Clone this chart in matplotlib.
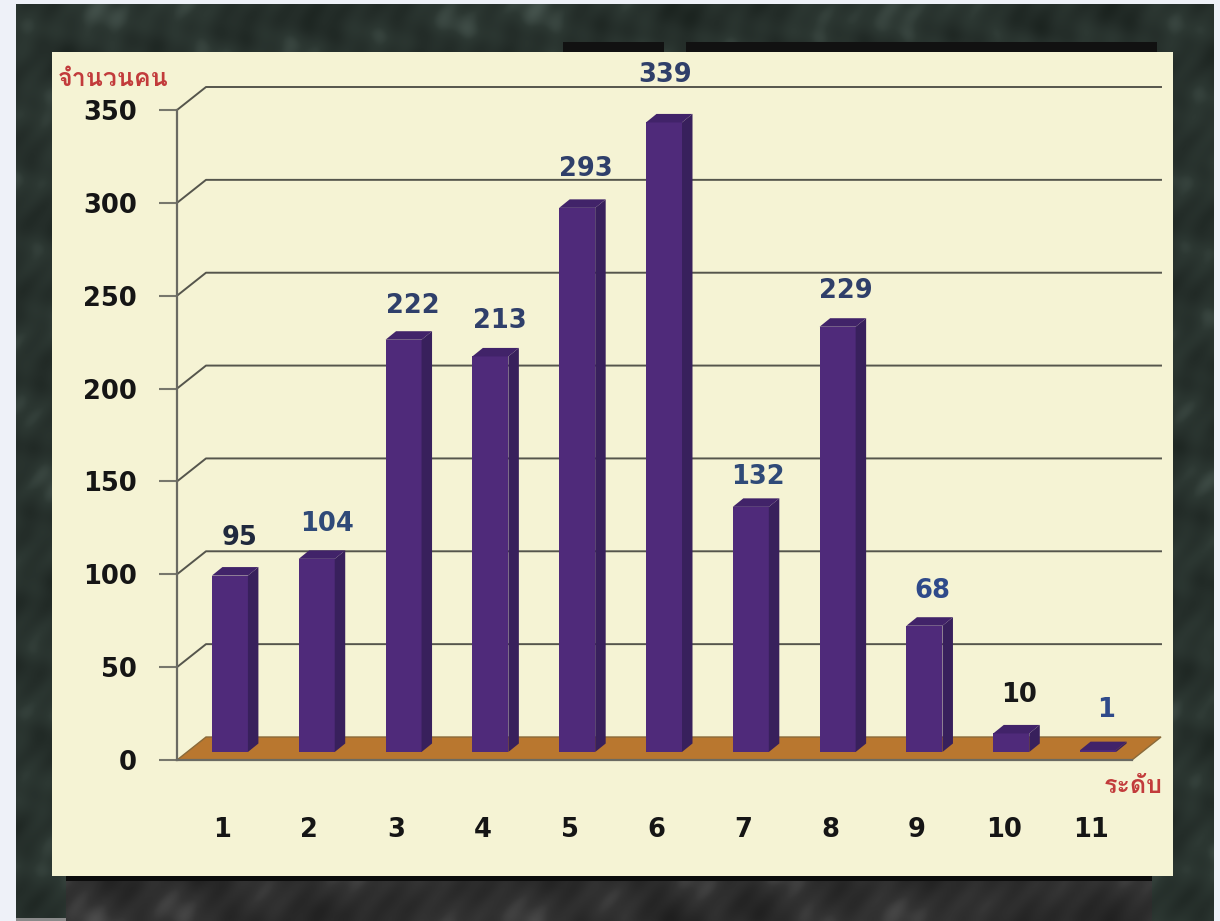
import matplotlib
matplotlib.use("Agg")
import matplotlib.pyplot as plt
import numpy as np
from matplotlib.patches import Polygon, Rectangle
from matplotlib.colors import LinearSegmentedColormap
from matplotlib.ft2font import FT2Font
from matplotlib import font_manager as fm
from matplotlib.transforms import ScaledTranslation

categories = [1, 2, 3, 4, 5, 6, 7, 8, 9, 10, 11]
values = [95, 104, 222, 213, 293, 339, 132, 229, 68, 10, 1]
y_ticks = [0, 50, 100, 150, 200, 250, 300, 350]
y_title = "จำนวนคน"
x_title = "ระดับ"

W, H = 1220, 921
fig = plt.figure(figsize=(W / 100, H / 100), dpi=100, facecolor="#eef1f8")

thai = []
for f in fm.fontManager.ttflist:
    try:
        if 0x0E08 in FT2Font(f.fname).get_charmap():
            thai.append(f.name)
    except Exception:
        pass
thai_family = list(dict.fromkeys(thai)) + ["DejaVu Sans"]

bg = fig.add_axes([0, 0, 1, 1], zorder=0)
bg.set_xlim(0, W); bg.set_ylim(H, 0); bg.axis("off")

# mottled marble backdrop (decoration only)
gx, gy = np.meshgrid(np.arange(16, 1214, 2.0), np.arange(5, 921, 2.0))
tex = (np.sin(gx / 23 + gy / 41) * np.sin(gy / 17 - gx / 37)
       + 0.6 * np.sin(gx / 7.3 + np.sin(gy / 11)) * np.sin(gy / 9.1 + gx / 13)
       + 0.4 * np.sin(gx / 61 - gy / 29))
cmap = LinearSegmentedColormap.from_list("marble", ["#1a221e", "#242d29", "#2c3732", "#46544e"])
bg.imshow(tex, extent=(16, 1214, 921, 5), cmap=cmap, aspect="auto", zorder=1, interpolation="bilinear")
cmap2 = LinearSegmentedColormap.from_list("marble2", ["#1f1f1f", "#292929", "#333333", "#4c4c4c"])
sub = (gy > 876) & (gx > 66) & (gx < 1152)
r0, c0 = np.where(sub)
bg.imshow(tex[r0.min():r0.max() + 1, c0.min():c0.max() + 1], extent=(66, 1152, 921, 876), cmap=cmap2,
          aspect="auto", zorder=1.1, interpolation="bilinear")
bg.set_xlim(0, W); bg.set_ylim(H, 0)
bg.add_patch(Rectangle((16, 918), 50, 3, fc="#8a8a8a", ec="none", zorder=2))
bg.add_patch(Rectangle((66, 870), 1086, 11, fc="#0c0c0c", ec="none", zorder=2))
bg.add_patch(Rectangle((563, 42), 101, 12, fc="#111111", ec="none", zorder=2))
bg.add_patch(Rectangle((686, 42), 471, 12, fc="#111111", ec="none", zorder=2))
bg.add_patch(Rectangle((52, 52), 1121, 824, fc="#f5f3d4", ec="none", zorder=3))

L, R, T, B = 177, 1132, 110, 760
ax = fig.add_axes([L / W, 1 - B / H, (R - L) / W, (B - T) / H], zorder=1)
ax.set_xlim(0.5, 11.5)
ax.set_ylim(0, 350)
ax.patch.set_alpha(0)
for s in ax.spines.values():
    s.set_visible(False)
for side in ("left", "bottom"):
    ax.spines[side].set_visible(True)
    ax.spines[side].set_color("#6a6a62")
    ax.spines[side].set_linewidth(1.6)

px_x = 11 / (R - L)
px_y = 350 / (B - T)
depth_x, depth_y = 29 * px_x, 23 * px_y

floor = Polygon([(0.5, 0), (0.5 + depth_x, depth_y), (11.5 + depth_x, depth_y), (11.5, 0)],
                closed=True, fc="#b9772f", ec="#8a6a3a", lw=1, clip_on=False, zorder=1)
ax.add_patch(floor)
for t in y_ticks[1:]:
    ax.plot([0.5, 0.5 + depth_x, 11.5 + depth_x], [t, t + depth_y, t + depth_y],
            color="#55554c", lw=1.4, clip_on=False, zorder=0.5)

bar_w = 36 * px_x
shift_x, shift_y = 9.5 * px_x, 8 * px_y
side_x, side_y = 10.5 * px_x, 8.5 * px_y
for c, v in zip(categories, values):
    x0 = c + shift_x - bar_w / 2
    x1 = x0 + bar_w
    y0 = shift_y
    y1 = shift_y + v
    ax.add_patch(Polygon([(x0, y0), (x1, y0), (x1, y1), (x0, y1)], fc="#4f2a7a", ec="none",
                         clip_on=False, zorder=3))
    ax.add_patch(Polygon([(x1, y0), (x1 + side_x, y0 + side_y), (x1 + side_x, y1 + side_y), (x1, y1)],
                         fc="#38205c", ec="none", clip_on=False, zorder=3))
    ax.add_patch(Polygon([(x0, y1), (x0 + side_x, y1 + side_y), (x1 + side_x, y1 + side_y), (x1, y1)],
                         fc="#412369", ec="none", clip_on=False, zorder=3))

ax.set_xticks(categories)
ax.set_xticklabels(categories)
ax.set_yticks(y_ticks)
ax.tick_params(axis="y", length=13, width=1.5, color="#77776c", pad=16, labelsize=18.5, labelcolor="#151515")
ax.tick_params(axis="x", length=0, pad=41, labelsize=18.5, labelcolor="#151515")
shift_labels = ScaledTranslation(2 / 100, 0, fig.dpi_scale_trans)
for t in ax.get_xticklabels():
    t.set_family("DejaVu Sans")
    t.set_weight("bold")
    t.set_transform(t.get_transform() + shift_labels)
for t in ax.get_yticklabels():
    t.set_family("DejaVu Sans")
    t.set_weight("bold")

label_gap = [38, 35, 34, 35, 39, 47, 30, 36, 35, 38, 40]
label_dx = [10, 10, 9, 9, 9, 1, 7, 8, 8, 8, 8]
label_colors = ["#20293d", "#2f4a78", "#2f3f6a", "#2f3f6a", "#2f3f6a", "#2f3f6a",
                "#2f4a78", "#2f3f6a", "#2f4a8a", "#181818", "#2f4a8a"]
for c, v, g, d, col in zip(categories, values, label_gap, label_dx, label_colors):
    ax.annotate(str(v), (c + shift_x, v + shift_y), xytext=(d * 0.72, g * 0.72),
                textcoords="offset points", ha="center", va="center", fontsize=18.5, color=col,
                family="DejaVu Sans", weight="bold", annotation_clip=False, zorder=5)

ax.text(168, 80, y_title, transform=bg.transData, ha="right", va="center", fontsize=18,
        color="#c23b3b", family=thai_family, weight="bold")
ax.text(1163, 786, x_title, transform=bg.transData, ha="right", va="center", fontsize=18,
        color="#c23b3b", family=thai_family, weight="bold")

fig.savefig("out.png", dpi=100, facecolor=fig.get_facecolor())
